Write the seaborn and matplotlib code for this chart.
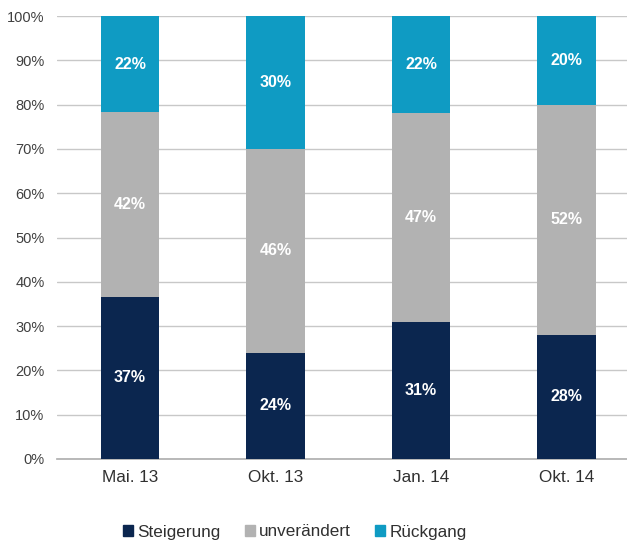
import numpy as np
import matplotlib
matplotlib.use("Agg")
import matplotlib.pyplot as plt
import seaborn as sns
from matplotlib.patches import Patch

# === Daten ===
zeitpunkte = ["Mai. 13", "Okt. 13", "Jan. 14", "Okt. 14"]
steigerung = [37, 24, 31, 28]
unveraendert = [42, 46, 47, 52]
rueckgang = [22, 30, 22, 20]

farben = {"Steigerung": "#0b264f", "unverändert": "#b2b2b2", "Rückgang": "#0f9bc3"}

# === Auf 100% normieren ===
s = np.array(steigerung, dtype=float)
u = np.array(unveraendert, dtype=float)
r = np.array(rueckgang, dtype=float)
summe = s + u + r
s_p, u_p, r_p = s / summe * 100, u / summe * 100, r / summe * 100
kum1 = s_p
kum2 = s_p + u_p
kum3 = kum2 + r_p

sns.set_theme(style="white")
plt.rcParams["font.family"] = ["Liberation Sans", "DejaVu Sans"]

fig = plt.figure(figsize=(6.27, 5.41), dpi=100)
ax = fig.add_axes([57 / 627, 82 / 541, 1 - 57 / 627, 443 / 541])

# gestapelt: von oben nach unten überlagern
for werte, name in [(kum3, "Rückgang"), (kum2, "unverändert"), (kum1, "Steigerung")]:
    sns.barplot(x=zeitpunkte, y=werte, color=farben[name], width=0.4, ax=ax,
                saturation=1, linewidth=0, zorder=3)

# === Beschriftungen ===
for i in range(len(zeitpunkte)):
    for unten, hoehe, wert in [(0, s_p[i], steigerung[i]),
                               (kum1[i], u_p[i], unveraendert[i]),
                               (kum2[i], r_p[i], rueckgang[i])]:
        ax.text(i, unten + hoehe / 2, f"{wert}%", ha="center", va="center",
                color="white", fontsize=11.5, fontweight="bold", zorder=4)

ax.set_ylim(0, 100)
ax.set_xlim(-0.502, 3.416)
ax.set_yticks(range(0, 101, 10))
ax.set_yticklabels([f"{v}%" for v in range(0, 101, 10)])
ax.yaxis.grid(True, color="#c8c8c8", linewidth=1, zorder=0)
ax.set_axisbelow(True)
for sp in ["left", "right", "top"]:
    ax.spines[sp].set_visible(False)
ax.spines["bottom"].set_color("#b0b0b0")
ax.tick_params(axis="y", labelsize=10.5, colors="#404040", length=0, pad=9)
ax.tick_params(axis="x", labelsize=12.3, colors="#303030", length=0, pad=8)
ax.set_xlabel("")
ax.set_ylabel("")

# === Legende ===
handles = [Patch(color=c, label=k) for k, c in farben.items()]
fig.legend(handles=handles, loc="center", bbox_to_anchor=(295 / 627, 9 / 541), ncol=3,
           frameon=False, fontsize=12.3, handlelength=0.6, handleheight=0.6,
           handletextpad=0.25, columnspacing=1.4, labelcolor="#303030")

fig.savefig("out.png", dpi=100)
